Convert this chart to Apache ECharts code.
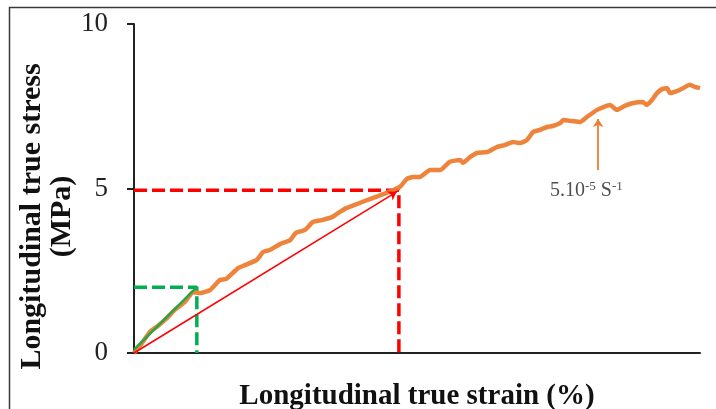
<!DOCTYPE html>
<html><head><meta charset="utf-8">
<script src="https://cdn.jsdelivr.net/npm/echarts@6/dist/echarts.min.js"></script>
<style>html,body{margin:0;padding:0;background:#fff}#c{width:716px;height:409px}</style>
</head><body><div id="c"></div>
<script>
// Longitudinal true strain (arbitrary axis units, no tick labels in reference)
const strain = [0,1.4,2.8,4.2,5.8,7.2,9.0,10.4,11.7,13.4,15.2,16.3,18.4,19.6,21.7,22.8,24.0,25.8,27.6,28.6,30.2,31.6,33.2,35.0,36.4,37.6,39.0,41.2,43.1,44.5,45.8,47.0,48.2,49.3,50.5,52.3,54.1,55.8,57.6,58.1,59.4,60.6,62.4,64.1,65.5,67.0,68.2,69.4,70.5,71.7,73.0,74.0,75.3,75.8,77.4,78.8,80.0,81.8,84.1,85.3,86.7,88.2,89.9,90.6,91.5,92.4,93.3,94.2,94.7,95.9,97.0,98.2,99.1,100];
// Longitudinal true stress (MPa)
const stress = [0,0.30,0.64,0.82,1.06,1.31,1.55,1.85,1.82,1.91,2.22,2.25,2.58,2.67,2.83,3.07,3.13,3.31,3.43,3.65,3.74,3.98,4.04,4.13,4.29,4.41,4.50,4.65,4.77,4.86,4.95,5.05,5.29,5.35,5.35,5.56,5.56,5.81,5.87,5.78,5.96,6.08,6.11,6.26,6.32,6.41,6.38,6.47,6.72,6.78,6.87,6.90,6.99,7.08,7.05,7.02,7.17,7.39,7.54,7.39,7.51,7.60,7.63,7.54,7.69,7.90,8.02,8.05,7.90,7.96,8.05,8.15,8.09,8.05];
const yTicks = [0, 5, 10];
// guide lines
const greenSlope = [[0, 0.1], [11.1, 2.0]];
const greenBox = [[0, 2.0], [11.1, 2.0], [11.1, 0]];
const redSlope = [[0, 0], [46.4, 4.9]];
const redBox = [[0, 4.95], [46.8, 4.95], [46.8, 0]];
const annotArrow = [[82.0, 5.56], [82.0, 7.11]];
const annotPos = [73.5, 4.93];
const annotText = '{n|5.10}{s|-5}{n| S}{s|-1}';

const serif = '"Liberation Serif","Times New Roman",serif';
const chart = echarts.init(document.getElementById('c'), null, {renderer: 'canvas'});
chart.setOption({
  animation: false,
  backgroundColor: '#fff',
  graphic: [{type: 'rect', shape: {x: 9.5, y: 7.5, width: 720, height: 420}, style: {fill: 'none', stroke: '#3a3a3a', lineWidth: 1.5}, z: 100}],
  grid: {left: 134, right: 16, top: 24, bottom: 56, containLabel: false, outerBoundsMode: 'none'},
  xAxis: {
    type: 'value', min: 0, max: 100,
    name: 'Longitudinal true strain (%)', nameLocation: 'middle', nameGap: 29, nameMoveOverlap: false,
    nameTextStyle: {fontFamily: serif, fontWeight: 'bold', fontSize: 29, color: '#111'},
    axisLine: {show: true, lineStyle: {color: '#222', width: 2}},
    axisTick: {show: false}, axisLabel: {show: false}, splitLine: {show: false}
  },
  yAxis: {
    type: 'value', min: 0, max: 10, interval: 5,
    name: 'Longitudinal true stress\n(MPa)', nameLocation: 'middle', nameGap: 57, nameRotate: 90, nameMoveOverlap: false,
    nameTextStyle: {fontFamily: serif, fontWeight: 'bold', fontSize: 30, color: '#111', lineHeight: 30, padding: [0, 56, 0, 0]},
    axisLine: {show: true, lineStyle: {color: '#222', width: 2}},
    axisTick: {show: true, length: 7, lineStyle: {color: '#222', width: 2}},
    axisLabel: {fontFamily: serif, fontSize: 27, color: '#222', margin: 26, formatter: v => yTicks.includes(v) ? String(v) : ''},
    splitLine: {show: false}
  },
  series: [
    {type: 'line', data: redBox, symbol: 'none', lineStyle: {color: '#FF0000', width: 3.5, type: [13, 5]}, z: 2},
    {type: 'line', data: greenBox, symbol: 'none', lineStyle: {color: '#00B050', width: 3.5, type: [13, 5]}, z: 2},
    {type: 'line', data: strain.map((x, i) => [x, stress[i]]), symbol: 'none', smooth: 0.15,
     lineStyle: {color: '#ED7D31', width: 4.5, opacity: 0.95}, z: 3},
    {type: 'line', data: greenSlope, symbol: 'none', lineStyle: {color: '#22A84A', width: 2.5}, z: 4},
    {type: 'line', data: [], symbol: 'none', z: 5,
     markLine: {silent: true, symbol: ['none', 'arrow'], symbolSize: 8, label: {show: false},
       data: [
         [{coord: redSlope[0], lineStyle: {color: '#FF0000', width: 1.5, type: 'solid'}}, {coord: redSlope[1]}],
         [{coord: annotArrow[0], lineStyle: {color: '#ED7D31', width: 1.8, type: 'solid'}}, {coord: annotArrow[1]}]
       ]}},
    {type: 'scatter', data: [annotPos], symbolSize: 0, z: 6,
     label: {show: true, position: 'right', distance: 0, formatter: annotText, color: '#222',
       rich: {n: {fontFamily: serif, fontSize: 20, color: '#222', lineHeight: 22},
              s: {fontFamily: serif, fontSize: 13, color: '#222', verticalAlign: 'top', lineHeight: 22}}}}
  ]
});
</script></body></html>
